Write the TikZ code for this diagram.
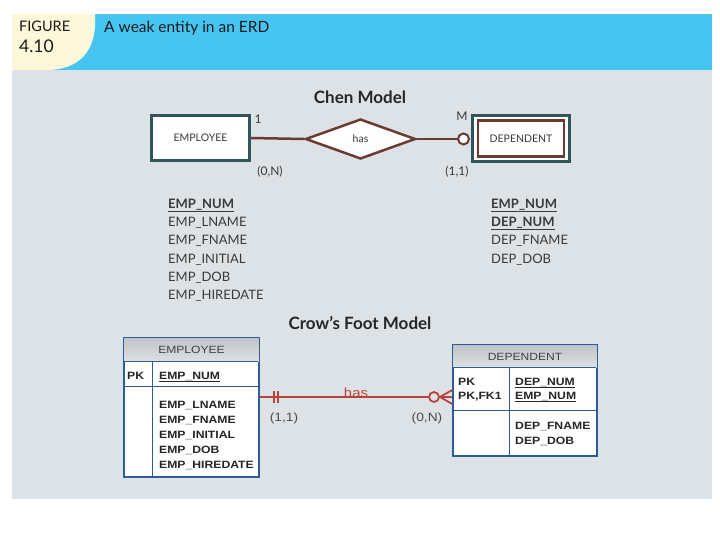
\documentclass[tikz,border=0pt]{standalone}
\usepackage{fontspec}
\setmainfont{Lato}
\newfontfamily\arialf[FakeStretch=1.15]{Liberation Sans}
\usetikzlibrary{shapes.geometric,calc}
\definecolor{band}{HTML}{47C5F1}
\definecolor{cream}{HTML}{FDF8D9}
\definecolor{panel}{HTML}{DDE2E7}
\definecolor{tealc}{HTML}{2F5558}
\definecolor{brn}{HTML}{6B3A30}
\definecolor{cfblue}{HTML}{2E5C96}
\definecolor{cfred}{HTML}{B8433B}
\definecolor{txt}{HTML}{3A3A3A}
\definecolor{hdrtop}{HTML}{BFC4C8}
\definecolor{hdrbot}{HTML}{DDE0E2}
\begin{document}
\begin{tikzpicture}[x=1pt,y=-1pt,
  chenent/.style={draw=tealc,line width=3pt,fill=white,inner sep=0pt,font=\fontsize{10.5}{12}\selectfont,text=txt},
  chenattr/.style={anchor=base west,inner sep=0pt,font=\fontsize{13}{15}\selectfont,text=txt},
  chenlbl/.style={inner sep=0pt,font=\fontsize{12}{14}\selectfont,text=txt},
  cftab/.style={draw=cfblue,line width=1.3pt,fill=white,inner sep=0pt},
  cfline/.style={draw=cfblue,line width=1.1pt},
  cftxt/.style={anchor=base west,inner sep=0pt,font=\arialf\bfseries\fontsize{10.6}{12}\selectfont,text=black!85},
  cfhdr/.style={inner sep=0pt,font=\arialf\fontsize{10.5}{12}\selectfont,text=black!75},
  rel/.style={draw=cfred,line width=1.8pt},
  cflbl/.style={inner sep=0pt,font=\arialf\fontsize{12}{14}\selectfont,text=black!70}]
\useasboundingbox (0,0) rectangle (720,540);
\fill[white] (0,0) rectangle (720,540);
\fill[panel] (12,70) rectangle (712,499);
\fill[band] (12,14) rectangle (712,70);
\fill[cream] (12,14) -- (95,14) .. controls (97,45) and (85,68) .. (50,70) -- (12,70) -- cycle;
\node[anchor=base west,inner sep=0pt,font=\fontsize{14.5}{16}\selectfont,text=black!90] (fig) at (19,32) {FIGURE};
\node[anchor=base west,inner sep=0pt,font=\fontsize{17.5}{19}\selectfont,text=black!90] (fignum) at (19,53) {4.10};
\node[anchor=base west,inner sep=0pt,font=\fontsize{15.5}{17}\selectfont,text=black!90] (figtitle) at (104,33) {A weak entity in an ERD};

% Chen model
\node[inner sep=0pt,font=\bfseries\fontsize{17}{19}\selectfont,text=black!85] (chent) at (360,97) {Chen Model};
\node[chenent,minimum width=98pt,minimum height=45pt] (emp) at (200.5,138) {EMPLOYEE};
\node[diamond,draw=brn,line width=2.5pt,fill=white,inner sep=0pt,minimum width=110pt,minimum height=40pt,font=\fontsize{10.5}{12}\selectfont,text=txt] (has) at (360.5,139) {has};
\node[chenent,minimum width=97pt,minimum height=46pt] (depout) at (521,138.5) {};
\node[draw=brn,line width=2.5pt,fill=white,inner sep=0pt,minimum width=86pt,minimum height=36pt,font=\fontsize{10.5}{12}\selectfont,text=txt] (dep) at (521,138.5) {DEPENDENT};
\node[circle,draw=brn,line width=2pt,fill=white,inner sep=0pt,minimum size=11pt] (mc) at (463.5,139) {};
\draw[brn,line width=2.5pt] (emp.east) -- (has.west);
\draw[brn,line width=2.5pt] (has.east) -- (mc.west);
\node[chenlbl] (one) at (258,119) {1};
\node[chenlbl] (em) at (462,116) {M};
\node[chenlbl] (zn) at (270,172) {(0,N)};
\node[chenlbl] (oo) at (457,172) {(1,1)};

\node[chenattr] (a1) at (168,208) {\underline{\textbf{EMP\_NUM}}};
\node[chenattr] (a2) at (168,226) {EMP\_LNAME};
\node[chenattr] (a3) at (168,244) {EMP\_FNAME};
\node[chenattr] (a4) at (168,263) {EMP\_INITIAL};
\node[chenattr] (a5) at (168,281) {EMP\_DOB};
\node[chenattr] (a6) at (168,299) {EMP\_HIREDATE};
\node[chenattr] (b1) at (491,208) {\underline{\textbf{EMP\_NUM}}};
\node[chenattr] (b2) at (491,226) {\underline{\textbf{DEP\_NUM}}};
\node[chenattr] (b3) at (491,244) {DEP\_FNAME};
\node[chenattr] (b4) at (491,263) {DEP\_DOB};

% Crow's foot model
\node[inner sep=0pt,font=\bfseries\fontsize{17}{19}\selectfont,text=black!85] (cft) at (360,323) {Crow's Foot Model};

\node[cftab,minimum width=135pt,minimum height=139pt] (cfemp) at (191.5,407.5) {};
\shade[top color=hdrtop,bottom color=hdrbot] ($(cfemp.north west)+(0.6,0.6)$) rectangle ($(cfemp.north east)+(-0.6,24)$);
\draw[cfline] (cfemp.north west) ++(0,24) -- ++(135,0);
\draw[cfline] (cfemp.north west) ++(0,49) -- ++(135,0);
\draw[cfline] (cfemp.north west) ++(29,24) -- ++(0,115);
\draw[cfblue,line width=1.3pt] (cfemp.north west) rectangle (cfemp.south east);
\node[cfhdr] (cfemph) at (191.5,350) {EMPLOYEE};
\node[cftxt] (e0) at (127,379) {PK};
\node[cftxt] (e1) at (159,379) {\underline{EMP\_NUM}};
\node[cftxt] (e2) at (159,408) {EMP\_LNAME};
\node[cftxt] (e3) at (159,423) {EMP\_FNAME};
\node[cftxt] (e4) at (159,438) {EMP\_INITIAL};
\node[cftxt] (e5) at (159,453) {EMP\_DOB};
\node[cftxt] (e6) at (159,468) {EMP\_HIREDATE};

\node[cftab,minimum width=144pt,minimum height=111pt] (cfdep) at (525,400.5) {};
\shade[top color=hdrtop,bottom color=hdrbot] ($(cfdep.north west)+(0.6,0.6)$) rectangle ($(cfdep.north east)+(-0.6,23)$);
\draw[cfline] (cfdep.north west) ++(0,23) -- ++(144,0);
\draw[cfline] (cfdep.north west) ++(0,66) -- ++(144,0);
\draw[cfline] (cfdep.north west) ++(57,23) -- ++(0,88);
\draw[cfblue,line width=1.3pt] (cfdep.north west) rectangle (cfdep.south east);
\node[cfhdr] (cfdeph) at (525,356.5) {DEPENDENT};
\node[cftxt] (d0) at (458,385) {PK};
\node[cftxt] (d0b) at (458,399) {PK,FK1};
\node[cftxt] (d1) at (515,385) {\underline{DEP\_NUM}};
\node[cftxt] (d2) at (515,399) {\underline{EMP\_NUM}};
\node[cftxt] (d3) at (515,429) {DEP\_FNAME};
\node[cftxt] (d4) at (515,444) {DEP\_DOB};

\coordinate (rl) at (cfemp.east |- 0,397);
\coordinate (rr) at (cfdep.west |- 0,397);
\node[circle,draw=cfred,line width=1.8pt,fill=panel,inner sep=0pt,minimum size=10pt] (oc) at (434,397) {};
\draw[rel] (rl) -- (oc.west);
\draw[rel] (oc.east) -- (rr);
\draw[rel] (oc.east) -- ($(rr)+(0,-7)$);
\draw[rel] (oc.east) -- ($(rr)+(0,7)$);
\draw[rel] ($(rl)+(14,-6)$) -- ($(rl)+(14,6)$);
\draw[rel] ($(rl)+(18,-6)$) -- ($(rl)+(18,6)$);
\node[inner sep=0pt,font=\arialf\fontsize{13}{15}\selectfont,text=cfred] (haslbl) at (356,393) {has};
\node[cflbl] (c11) at (284,418) {(1,1)};
\node[cflbl] (c0n) at (427,418) {(0,N)};
\end{tikzpicture}
\end{document}
